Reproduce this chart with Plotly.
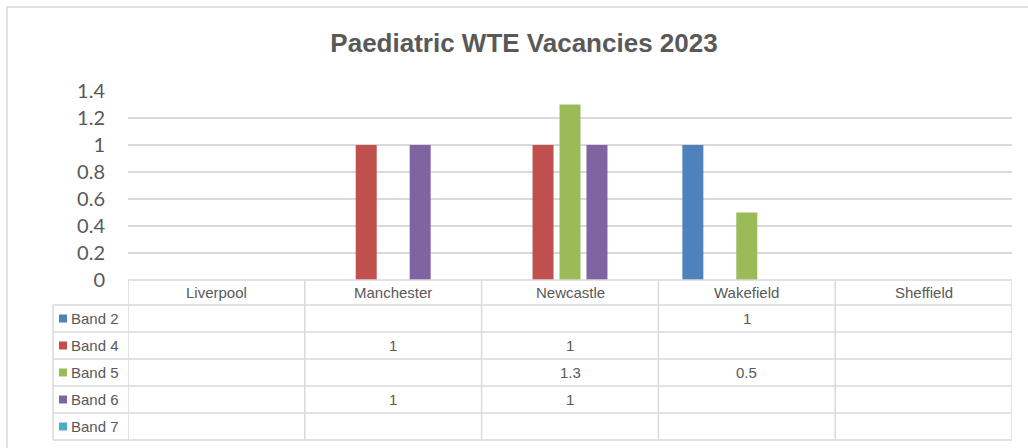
import plotly.graph_objects as go

categories = ["Liverpool", "Manchester", "Newcastle", "Wakefield", "Sheffield"]
series_names = ["Band 2", "Band 4", "Band 5", "Band 6", "Band 7"]
band2 = [None, None, None, 1, None]
band4 = [None, 1, 1, None, None]
band5 = [None, None, 1.3, 0.5, None]
band6 = [None, 1, 1, None, None]
band7 = [None, None, None, None, None]
series_values = [band2, band4, band5, band6, band7]
colors = ["#4F81BD", "#C0504D", "#9BBB59", "#8064A2", "#4BACC6"]
y_ticks = [0, 0.2, 0.4, 0.6, 0.8, 1, 1.2, 1.4]
y_tick_labels = ["0", "0.2", "0.4", "0.6", "0.8", "1", "1.2", "1.4"]
title_text = "Paediatric WTE Vacancies 2023"

W, H = 1028, 448
def px(x):
    return x / W
def py(y):
    return 1 - y / H

# layout (pixels)
PL, PR = 128, 1012
PT, PB = 91, 280
TABLE_LEFT = 53
ROW_H = 27
HEADER_B = 305
GRID = "#d9d9d9"
TXT = "#595959"

fig = go.Figure()
for name, vals, col in zip(series_names, series_values, colors):
    fig.add_trace(go.Bar(x=categories, y=vals, name=name, marker=dict(color=col, line=dict(width=0)),
                         showlegend=False, hoverinfo="x+y+name"))

shapes = []
annotations = []
# outer border
shapes.append(dict(type="rect", xref="paper", yref="paper", x0=px(7), x1=px(1040), y0=py(7), y1=py(460),
                   line=dict(color=GRID, width=1.5), fillcolor="rgba(0,0,0,0)", layer="below"))

# table geometry
row_tops = [HEADER_B + i * ROW_H for i in range(len(series_names))]
table_bottom = HEADER_B + ROW_H * len(series_names)
shapes.append(dict(type="line", xref="paper", yref="paper", x0=px(PL), x1=px(PR), y0=py(PB), y1=py(PB),
                   line=dict(color=GRID, width=1.5)))
for yy in row_tops + [table_bottom]:
    shapes.append(dict(type="line", xref="paper", yref="paper", x0=px(TABLE_LEFT), x1=px(PR), y0=py(yy), y1=py(yy),
                       line=dict(color=GRID, width=1.5)))
for i in range(len(categories) + 1):
    xv = i - 0.5
    shapes.append(dict(type="line", xref="x", yref="paper", x0=xv, x1=xv, y0=py(PB), y1=py(table_bottom),
                       line=dict(color=GRID, width=1.5)))
shapes.append(dict(type="line", xref="paper", yref="paper", x0=px(TABLE_LEFT), x1=px(TABLE_LEFT),
                   y0=py(HEADER_B), y1=py(table_bottom), line=dict(color=GRID, width=1.5)))

TFONT = dict(family="Liberation Sans, Arial, sans-serif", size=15, color=TXT)
for c in categories:
    annotations.append(dict(x=c, xref="x", y=py((PB + HEADER_B) / 2), yref="paper", text=c, showarrow=False,
                            xanchor="center", yanchor="middle", font=TFONT))
for r, (name, vals, col) in enumerate(zip(series_names, series_values, colors)):
    yc = row_tops[r] + ROW_H / 2
    shapes.append(dict(type="rect", xref="paper", yref="paper", x0=px(59), x1=px(67), y0=py(yc - 4), y1=py(yc + 4),
                       fillcolor=col, line=dict(width=0)))
    annotations.append(dict(x=px(69), xref="paper", y=py(yc), yref="paper", text=name, showarrow=False,
                            xanchor="left", yanchor="middle", font=TFONT))
    for c, v in zip(categories, vals):
        if v is not None:
            annotations.append(dict(x=c, xref="x", y=py(yc), yref="paper", text=f"{v:g}", showarrow=False,
                                    xanchor="center", yanchor="middle", font=TFONT))

fig.update_layout(
    width=W, height=H,
    margin=dict(l=0, r=0, t=0, b=0, autoexpand=False),
    paper_bgcolor="white", plot_bgcolor="white",
    barmode="group", bargap=0.237, bargroupgap=0.222,
    title=dict(text="<b>" + title_text + "</b>", x=px(524), xanchor="center", y=py(43), yanchor="middle",
               xref="paper", yref="paper",
               font=dict(family="Liberation Sans, Arial, sans-serif", size=26, color=TXT)),
    xaxis=dict(domain=[px(PL), px(PR)], range=[-0.5, len(categories) - 0.5], showticklabels=False,
               showgrid=False, zeroline=False, showline=False, ticks="", automargin=False),
    yaxis=dict(domain=[py(PB), py(PT)], range=[0, 1.4], tickvals=y_ticks, ticktext=y_tick_labels,
               showgrid=True, gridcolor=GRID, gridwidth=1.5, zeroline=False, showline=False, ticks="",
               ticklabelstandoff=22, automargin=False,
               tickfont=dict(family="Lato, Carlito, sans-serif", size=20, color=TXT)),
    shapes=shapes, annotations=annotations,
)

fig.write_html("out.html", config={"displayModeBar": False},
               post_script="document.body.style.margin='0';document.body.style.overflow='hidden';")
